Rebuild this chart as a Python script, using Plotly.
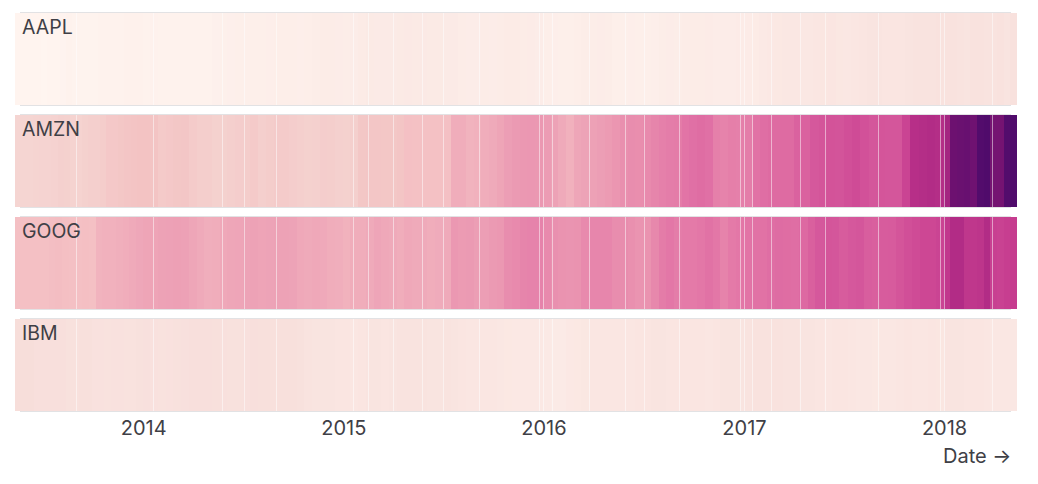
import pandas as pd
import plotly.graph_objects as go

symbols = ["AAPL", "AMZN", "GOOG", "IBM"]
years = [2013, 2014, 2015, 2016, 2017, 2018]

AAPL = [[63,62,62,60,58,60,63,65,72,70,68,70,70,72,75,75,75,80,79,81],
        [77,78,75,77,76,77,77,75,75,85,88,90,92,95,96,96,98,101,100,100,97,100,108,115,115,110],
        [108,110,120,127,125,125,125,128,130,127,130,128,127,125,125,115,110,112,113,110,115,120,120,115,118,110],
        [100,97,95,96,100,106,106,110,106,92,95,98,95,96,98,107,109,107,113,114,114,117,110,110,112,116],
        [117,120,132,135,140,141,143,142,143,150,153,155,146,145,150,155,160,162,158,155,157,160,172,172,170,175],
        [175,177,170,160,175,178,170,170,175,165,185]]
AMZN = [[265,265,270,275,280,280,290,305,300,285,285,300,315,310,330,360,360,370,385,395,400],
        [400,395,350,360,370,375,340,320,320,300,300,310,325,330,350,315,330,340,340,325,310,300,305,325,320,305],
        [300,310,370,375,375,370,370,385,440,430,430,430,430,440,530,530,500,510,530,540,570,620,650,660,670,665],
        [630,590,540,510,560,580,600,620,640,680,710,720,715,730,745,760,770,775,800,820,840,820,760,750,765,760],
        [770,810,830,850,850,850,900,900,950,970,980,975,1000,1020,990,960,970,960,960,1060,1170,1180,1190,1180],
        [1240,1440,1450,1460,1430,1560,1570,1400,1400,1560,1570]]
GOOG = [[440,440,435,440,435,450,455,445,435,440,445,440,500,510,510,520,530,540,555],
        [570,575,590,600,605,600,560,540,525,530,550,560,565,580,590,575,585,590,590,580,550,540,550,545,530,525],
        [505,530,530,540,565,550,540,530,550,540,540,530,535,540,660,640,650,620,620,650,660,720,730,745,750,750],
        [730,710,700,690,700,730,740,740,740,720,720,710,690,700,735,775,790,770,780,780,790,810,790,750,780,790],
        [800,810,810,830,845,840,830,860,910,950,970,960,930,950,960,920,910,930,935,970,1000,1020,1040,1040,1060],
        [1120,1190,1190,1130,1130,1140,1190,1080,1070,1090,1100]]
IBM = [[205,205,205,195,195,195,195,195,185,185,190,190,180,180,178,180,180,175,178,185],
       [188,180,175,180,185,188,195,195,195,190,188,185,182,188,195,190,190,192,192,190,186,170,162,162,160,155],
       [155,150,158,160,160,155,160,170,170,172,170,165,165,170,160,155,150,148,148,150,145,140,138,135,138,135],
       [132,125,125,135,140,147,150,150,148,148,150,152,155,155,160,160,158,155,158,155,155,152,158,162,165,165],
       [170,175,178,178,177,172,170,160,160,155,152,155,155,150,145,143,140,145,145,150,155,150,150,155,153],
       [160,165,165,155,155,155,150,145,145,145,145]]

holidays = ["2013-09-02","2014-01-20","2014-05-26","2014-07-04","2014-09-01","2015-01-19","2015-02-16",
            "2015-04-03","2015-05-25","2015-07-03","2015-09-07","2015-12-25","2016-01-01","2016-01-18",
            "2016-03-25","2016-05-30","2016-07-04","2016-09-05","2016-12-26","2017-01-02","2017-01-16",
            "2017-02-20","2017-04-14","2017-05-29","2017-09-04","2017-12-25","2018-01-01","2018-03-30"]

tick_labels = ["2014", "2015", "2016", "2017", "2018"]

start = pd.Timestamp("2013-05-13")
end = pd.Timestamp("2018-05-15")
hol = [pd.Timestamp(h) for h in holidays]


def spans(by_year):
    """Each reading covers an equal share of its calendar year."""
    out = []
    for year, readings in zip(years, by_year):
        a = max(start, pd.Timestamp(f"{year}-01-01"))
        b = min(end, pd.Timestamp(f"{year + 1}-01-01"))
        step = (b - a) / len(readings)
        for i, v in enumerate(readings):
            out.append((a + step * i, a + step * (i + 1), v))
    return out


gap = pd.Timedelta(days=2)
all_spans = [spans(s) for s in (AAPL, AMZN, GOOG, IBM)]
cuts = {start, end}
for h in hol:
    cuts.update((h, h + gap))
for row in all_spans:
    for a, b, _ in row:
        for c in (a.floor("h"), b.floor("h")):
            if not any(h < c < h + gap for h in hol):
                cuts.add(c)
edges = sorted(c for c in cuts if start <= c <= end)
holiday_set = set(hol)

z_full, z_gaps = [], []
for row in all_spans:
    vals, gapped, j = [], [], 0
    for c0 in edges[:-1]:
        while j < len(row) - 1 and row[j][1].floor("h") <= c0:
            j += 1
        vals.append(row[j][2])
        gapped.append(None if c0 in holiday_set else row[j][2])
    z_full.append(vals)
    z_gaps.append(gapped)

colorscale = [[0.0, "#fff5f0"], [0.074, "#f9e3df"], [0.133, "#f5d6d3"], [0.223, "#f3c3c3"],
              [0.249, "#f4c0c4"], [0.327, "#eea6b8"], [0.417, "#ea93b0"], [0.482, "#e274a6"],
              [0.612, "#d14f98"], [0.676, "#c63c8f"], [0.741, "#b02a85"], [0.871, "#751372"],
              [1.0, "#4a0a6a"]]

TXT = "#3f3f46"
FONT = "Inter"
W, H = 1030, 476

xs = [e.strftime("%Y-%m-%d %H:%M") for e in edges]
fig = go.Figure()
# a half-strength copy underneath, so the holiday gaps read as pale hairlines
fig.add_trace(go.Heatmap(x=xs, y=symbols, z=z_full, colorscale=colorscale, zmin=55, zmax=1600,
                         showscale=False, ygap=10, opacity=0.5, hoverinfo="skip"))
fig.add_trace(go.Heatmap(x=xs, y=symbols, z=z_gaps, colorscale=colorscale, zmin=55, zmax=1600,
                         showscale=False, ygap=10))

fig.update_xaxes(
    range=[start.strftime("%Y-%m-%d"), end.strftime("%Y-%m-%d")],
    showgrid=False, zeroline=False, showline=False, ticks="",
    tickvals=[f"{y}-01-01" for y in tick_labels], ticktext=tick_labels,
    tickfont=dict(family=FONT, size=20, color=TXT),
    ticklabelshift=1, ticklabelstandoff=-2,
)
fig.update_yaxes(autorange="reversed", showticklabels=False, showgrid=False, zeroline=False, ticks="")

ml, mr, mt, mb = 7, 21, 0, 68
ph = H - mt - mb
fig.update_layout(
    width=W, height=H, margin=dict(l=ml, r=mr, t=mt, b=mb),
    paper_bgcolor="white", plot_bgcolor="white", font=dict(family=FONT, color=TXT),
)

row_h = ph / len(symbols)
for k, name in enumerate(symbols):
    top = 1 - k / len(symbols)
    fig.add_annotation(text=name, xref="paper", yref="paper", x=0, xanchor="left", xshift=5,
                       y=top, yanchor="top", yshift=-5, showarrow=False,
                       font=dict(family=FONT, size=19.5, color=TXT))
    for yy in (top - 4.5 / ph, top - (row_h - 4.5) / ph):
        fig.add_shape(type="line", xref="paper", yref="paper", x0=0.005, x1=0.994, y0=yy, y1=yy,
                      line=dict(color="#e2e2e4", width=1), layer="below")

fig.add_annotation(text="Date →", xref="paper", yref="paper", x=0.996, xanchor="right",
                   y=0, yanchor="top", yshift=-26, showarrow=False,
                   font=dict(family=FONT, size=20, color=TXT))

fig.write_html("out.html")
